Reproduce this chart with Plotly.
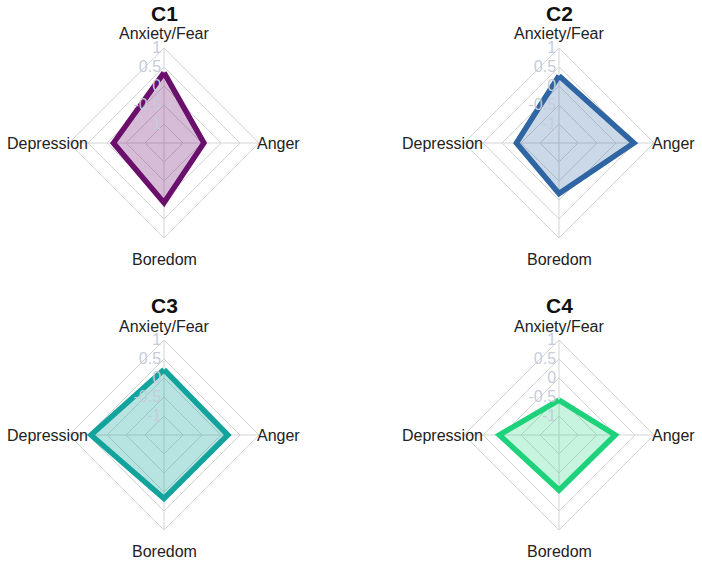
import plotly.graph_objects as go

categories = ["Anxiety/Fear", "Anger", "Boredom", "Depression"]
cluster_names = ["C1", "C2", "C3", "C4"]
c1_values = [0.35, -0.45, 0.07, -0.17]
c2_values = [0.27, 0.47, -0.17, -0.38]
c3_values = [0.22, 0.18, 0.17, 0.42]
c4_values = [-0.58, -0.02, -0.05, 0.07]
tick_values = [-1, -0.5, 0, 0.5, 1]
tick_labels = ["-1", "-0.5", "0", "0.5", "1"]

line_colors = ["#6A0F6C", "#2F65A3", "#12A39D", "#1ED27B"]
fill_colors = ["rgba(106,15,108,0.28)", "rgba(47,101,163,0.25)",
               "rgba(18,163,157,0.30)", "rgba(30,210,123,0.25)"]

W, H = 702, 561
centers = [(164, 143), (559, 143), (164, 435), (559, 435)]
R = 95
# label offsets (dx, dy) in pixels from chart centre, per category
label_offsets = [(0, -109), (114, 0), (0, 116), (-117, 0)]

all_values = [c1_values, c2_values, c3_values, c4_values]

fig = go.Figure()
for i, vals in enumerate(all_values):
    pid = "polar" if i == 0 else f"polar{i+1}"
    fig.add_trace(go.Scatterpolar(
        r=vals + [vals[0]],
        theta=categories + [categories[0]],
        mode="lines",
        fill="toself",
        fillcolor=fill_colors[i],
        line=dict(color=line_colors[i], width=5.5),
        subplot=pid,
        showlegend=False,
        hoverinfo="skip",
    ))

layout = dict(width=W, height=H, margin=dict(l=0, r=0, t=0, b=0),
              paper_bgcolor="white", plot_bgcolor="white",
              font=dict(family="Liberation Sans, Arial, sans-serif", color="#222"))
annotations = []
for i, (cx, cy) in enumerate(centers):
    pid = "polar" if i == 0 else f"polar{i+1}"
    layout[pid] = dict(
        domain=dict(x=[(cx - R) / W, (cx + R) / W],
                    y=[1 - (cy + R) / H, 1 - (cy - R) / H]),
        bgcolor="white",
        gridshape="linear",
        radialaxis=dict(range=[-1.5, 1], tickvals=tick_values, ticktext=tick_labels,
                        angle=90, tickangle=90, showline=False, ticks="",
                        gridcolor="#d4d4d4", gridwidth=1,
                        tickfont=dict(size=16, color="#c6ccdb"),
                        side="counterclockwise", layer="above traces"),
        angularaxis=dict(direction="clockwise", rotation=90,
                         categoryorder="array", categoryarray=categories,
                         showline=True, linecolor="#d4d4d4", linewidth=1,
                         gridcolor="#d4d4d4", gridwidth=1,
                         showticklabels=False, ticks=""),
    )
    annotations.append(dict(text=f"<b>{cluster_names[i]}</b>", x=cx / W,
                            y=1 - (cy - 143) / H, xref="paper", yref="paper",
                            showarrow=False, font=dict(size=21, color="#111"),
                            xanchor="center", yanchor="top"))
    for cat, (dx, dy) in zip(categories, label_offsets):
        annotations.append(dict(text=cat, x=(cx + dx) / W, y=1 - (cy + dy) / H,
                                xref="paper", yref="paper", showarrow=False,
                                font=dict(size=16, color="#222"),
                                xanchor="center", yanchor="middle"))
layout["annotations"] = annotations
fig.update_layout(**layout)
fig.write_html("out.html", post_script="document.body.style.margin='0px';",
               config={"displayModeBar": False})
